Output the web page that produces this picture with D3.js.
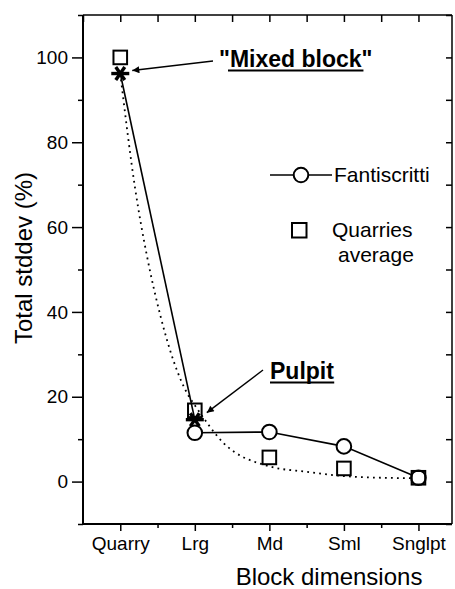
<!doctype html>
<html lang="en">
<head>
    <meta charset="utf-8" />
    <title>Total stddev</title>
    <script src="https://d3js.org/d3.v7.min.js"></script>
    <style>
        body { margin: 0; background: #fff; }
        svg { font-family: "Liberation Sans", Arial, sans-serif; }
    </style>
</head>
<body>
    <div id="chart"></div>
    <script>
        // categories on the x axis
        var categories = ["Quarry", "Lrg", "Md", "Sml", "Snglpt"]
        // Fantiscritti (circles, solid line)
        var fantiscritti = [null, 11.5, 11.7, 8.3, 0.9]
        // Quarries average (squares)
        var quarriesAvg = [100, 16.8, 5.7, 3.1, 0.9]
        // the two marked blocks (asterisks)
        var specialNames = ["\"Mixed block\"", "Pulpit"]
        var specialVals = [96.2, 14.6]
        // dotted fit curve (x in category units)
        var fitX = [0, 0.2, 0.36, 0.54, 0.71, 0.92, 1.0, 1.38, 2.0, 2.5, 3.0, 3.5, 4.0]
        var fitY = [96.2, 69, 53, 39, 28.7, 20.1, 18, 9.2, 3.6, 2.3, 1.3, 0.9, 0.8]
        var yTicks = [0, 20, 40, 60, 80, 100]
        var yMinor = [-10, 10, 30, 50, 70, 90, 110]

        var W = 455, H = 589
        var svg = d3.select("#chart").append("svg").attr("width", W).attr("height", H)

        var x = d3.scaleLinear().domain([-0.5, 4.45]).range([83, 452])
        var y = d3.scaleLinear().domain([-10, 110]).range([524, 15])

        var axisFont = 19

        // ---- axes ----
        var bottom = svg.append("g").attr("transform", "translate(0,524)")
            .call(d3.axisBottom(x).tickValues(d3.range(categories.length)).tickSize(7).tickPadding(6)
                .tickFormat(function (d) { return categories[d] }))
        var bottomMinor = svg.append("g").attr("transform", "translate(0,524)")
            .call(d3.axisBottom(x).tickValues([0.5, 1.5, 2.5, 3.5]).tickSize(4).tickFormat(""))
        var top = svg.append("g").attr("transform", "translate(0,15)")
            .call(d3.axisBottom(x).tickValues(d3.range(-0.5, 4.5, 0.5)).tickSize(7).tickFormat(""))
        var left = svg.append("g").attr("transform", "translate(83,0)")
            .call(d3.axisLeft(y).tickValues(yTicks).tickSize(11).tickPadding(4))
        var leftMinor = svg.append("g").attr("transform", "translate(83,0)")
            .call(d3.axisLeft(y).tickValues(yMinor).tickSize(5).tickFormat(""))
        var right = svg.append("g").attr("transform", "translate(452,0)")
            .call(d3.axisLeft(y).tickValues(yTicks.concat(yMinor)).tickSize(6).tickFormat(""))

        svg.selectAll(".domain").remove()
        svg.selectAll(".tick line").attr("stroke", "#000").attr("stroke-width", 1.5)
        svg.selectAll(".tick text").attr("fill", "#000").style("font-size", axisFont + "px")
            .style("font-family", "'Liberation Sans', Arial, sans-serif")

        // frame
        svg.append("line").attr("x1", 83).attr("x2", 83).attr("y1", 15).attr("y2", 525).attr("stroke", "#000").attr("stroke-width", 2)
        svg.append("line").attr("x1", 82).attr("x2", 452).attr("y1", 524).attr("y2", 524).attr("stroke", "#000").attr("stroke-width", 2)
        svg.append("line").attr("x1", 83).attr("x2", 452).attr("y1", 15).attr("y2", 15).attr("stroke", "#000").attr("stroke-width", 1.5)
        svg.append("line").attr("x1", 452).attr("x2", 452).attr("y1", 15).attr("y2", 524).attr("stroke", "#000").attr("stroke-width", 1.5)

        // axis titles
        svg.append("text").attr("x", 329).attr("y", 585).attr("text-anchor", "middle")
            .style("font-size", "24px").text("Block dimensions")
        svg.append("text").attr("transform", "translate(32,258) rotate(-90)").attr("text-anchor", "middle")
            .style("font-size", "24px").text("Total stddev (%)")

        // ---- dotted fit curve ----
        var fitPts = fitX.map(function (d, i) { return [d, fitY[i]] })
        svg.append("path").datum(fitPts)
            .attr("d", d3.line().x(function (d) { return x(d[0]) }).y(function (d) { return y(d[1]) }).curve(d3.curveMonotoneX))
            .attr("fill", "none").attr("stroke", "#000").attr("stroke-width", 1.8)
            .attr("stroke-dasharray", "1.8,4.2")

        // ---- solid lines ----
        var line = d3.line().defined(function (d) { return d[1] != null })
            .x(function (d) { return x(d[0]) }).y(function (d) { return y(d[1]) })
        svg.append("path").datum(specialVals.map(function (d, i) { return [i, d] }))
            .attr("d", line).attr("fill", "none").attr("stroke", "#000").attr("stroke-width", 1.6)
        svg.append("path").datum(fantiscritti.map(function (d, i) { return [i, d] }))
            .attr("d", line).attr("fill", "none").attr("stroke", "#000").attr("stroke-width", 1.6)

        // ---- markers ----
        svg.selectAll(".fc").data(fantiscritti.map(function (d, i) { return [i, d] }).filter(function (d) { return d[1] != null }))
            .enter().append("circle").attr("class", "fc")
            .attr("cx", function (d) { return x(d[0]) }).attr("cy", function (d) { return y(d[1]) })
            .attr("r", 7.3).attr("fill", "#fff").attr("stroke", "#000").attr("stroke-width", 2)
        svg.selectAll(".qa").data(quarriesAvg.map(function (d, i) { return [i, d] }))
            .enter().append("rect").attr("class", "qa")
            .attr("x", function (d) { return x(d[0]) - 6.8 }).attr("y", function (d) { return y(d[1]) - 6.8 })
            .attr("width", 13.6).attr("height", 13.6).attr("fill", "none").attr("stroke", "#000").attr("stroke-width", 2)

        function asterisk(g, cx, cy) {
            [0, 60, 120].forEach(function (a) {
                var r = a * Math.PI / 180
                g.append("line").attr("x1", cx - 9 * Math.cos(r)).attr("y1", cy - 7.5 * Math.sin(r))
                    .attr("x2", cx + 9 * Math.cos(r)).attr("y2", cy + 7.5 * Math.sin(r))
                    .attr("stroke", "#000").attr("stroke-width", 3.4)
            })
        }
        specialVals.forEach(function (d, i) { asterisk(svg, x(i), y(d)) })

        // ---- annotations ----
        svg.append("defs").append("marker").attr("id", "ah").attr("viewBox", "0 0 10 10")
            .attr("refX", 10).attr("refY", 5).attr("markerWidth", 10).attr("markerHeight", 7)
            .attr("markerUnits", "userSpaceOnUse").attr("orient", "auto")
            .append("path").attr("d", "M0,0 L10,5 L0,10 Z").attr("fill", "#000")

        var notes = [
            { tx: 219, ty: 67, ax: 213, ay: 61, i: 0 },
            { tx: 270, ty: 379, ax: 263, ay: 370, i: 1 }
        ]
        notes.forEach(function (n) {
            svg.append("line").attr("x1", n.ax).attr("y1", n.ay)
                .attr("x2", x(n.i) + 12).attr("y2", y(specialVals[n.i]) - (n.i == 0 ? 3 : 7))
                .attr("stroke", "#000").attr("stroke-width", 1.4).attr("marker-end", "url(#ah)")
            var t = svg.append("text").attr("x", n.tx).attr("y", n.ty)
                .style("font-size", "23px").style("font-weight", "bold").text(specialNames[n.i])
            var bb = t.node().getBBox()
            var q = specialNames[n.i].charAt(0) == "\"" ? 9 : 0
            svg.append("line").attr("x1", bb.x + q).attr("x2", bb.x + bb.width - q)
                .attr("y1", n.ty + 3.5).attr("y2", n.ty + 3.5).attr("stroke", "#000").attr("stroke-width", 2.2)
        })

        // ---- legend ----
        svg.append("line").attr("x1", 270).attr("x2", 332).attr("y1", 175).attr("y2", 175).attr("stroke", "#000").attr("stroke-width", 1.6)
        svg.append("circle").attr("cx", 301).attr("cy", 175).attr("r", 7.3).attr("fill", "#fff").attr("stroke", "#000").attr("stroke-width", 2)
        svg.append("text").attr("x", 334).attr("y", 182).style("font-size", "21px").text("Fantiscritti")
        svg.append("rect").attr("x", 292).attr("y", 223).attr("width", 14.5).attr("height", 14.5)
            .attr("fill", "none").attr("stroke", "#000").attr("stroke-width", 2)
        svg.append("text").attr("x", 332).attr("y", 237).style("font-size", "21px").text("Quarries")
        svg.append("text").attr("x", 338).attr("y", 262).style("font-size", "21px").text("average")
    </script>
</body>
</html>
